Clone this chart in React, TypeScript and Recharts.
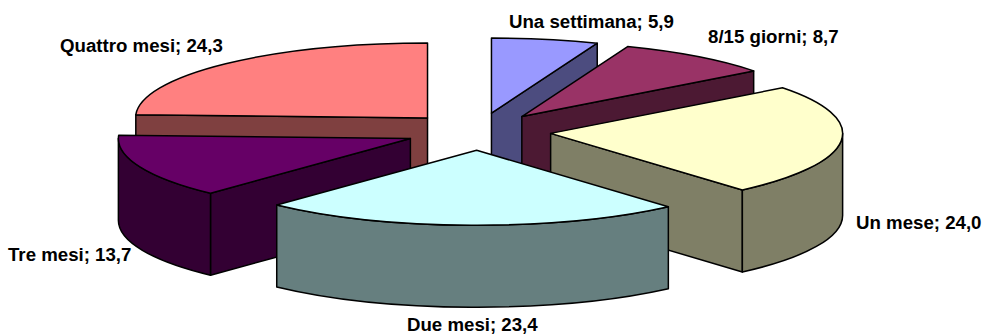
import { PieChart, Pie } from 'recharts';

const CATEGORIES = ['Una settimana', '8/15 giorni', 'Un mese', 'Due mesi', 'Tre mesi', 'Quattro mesi'];
const VALUES = [5.9, 8.7, 24.0, 23.4, 13.7, 24.3];
const TOP_COLORS = ['#9999FF', '#993366', '#FFFFCC', '#CCFFFF', '#660066', '#FF8080'];
const WALL_COLORS = ['#4C4C7F', '#4C1933', '#7F7F66', '#667F7F', '#330033', '#7F4040'];

// back-to-front, so nearer slices cover the ones behind them
const PAINT_ORDER = [5, 0, 1, 4, 2, 3];

const LABEL_ANCHORS = [
  { x: 509, y: 28 },
  { x: 708, y: 43 },
  { x: 856, y: 229 },
  { x: 407, y: 331 },
  { x: 8, y: 261 },
  { x: 60, y: 52 },
];

const WIDTH = 983;
const HEIGHT = 334;
const CX = 478;
const CY = 131.5;
const RADIUS = 292;
const SQUASH = 75 / 292; // vertical tilt of the disc
const DEPTH = 82;
const EXPLODE = 0.25;

const slices = CATEGORIES.map((name, i) => ({ name, value: VALUES[i] }));

const rad = (deg: number) => (deg * Math.PI) / 180;

function SliceBody({ cx, cy, outerRadius, startAngle, endAngle, midAngle, index }: any) {
  // angles clockwise from twelve o'clock
  const from = 90 - startAngle;
  const to = 90 - endAngle;
  const mid = midAngle !== undefined ? 90 - midAngle : (from + to) / 2;

  const rx = outerRadius;
  const ry = outerRadius * SQUASH;
  const ax = cx + EXPLODE * rx * Math.sin(rad(mid));
  const ay = cy - EXPLODE * ry * Math.cos(rad(mid));
  const at = (deg: number) => [ax + rx * Math.sin(rad(deg)), ay - ry * Math.cos(rad(deg))];

  const [sx, sy] = at(from);
  const [ex, ey] = at(to);
  const wall = WALL_COLORS[index];
  const edge = { stroke: '#000', strokeWidth: 1.5, strokeLinejoin: 'round' as const };

  const radial = (x: number, y: number) =>
    `M${ax} ${ay}L${x} ${y}L${x} ${y + DEPTH}L${ax} ${ay + DEPTH}Z`;

  // the curved side only faces the viewer on the front half of the disc
  const frontFrom = Math.max(from, 90);
  const frontTo = Math.min(to, 270);
  let outer = null;
  if (frontTo > frontFrom) {
    const [fx, fy] = at(frontFrom);
    const [tx, ty] = at(frontTo);
    outer =
      `M${fx} ${fy}A${rx} ${ry} 0 0 1 ${tx} ${ty}` +
      `L${tx} ${ty + DEPTH}A${rx} ${ry} 0 0 0 ${fx} ${fy + DEPTH}Z`;
  }

  return (
    <g>
      {Math.sin(rad(from)) < -1e-6 && <path d={radial(sx, sy)} fill={wall} {...edge} />}
      {Math.sin(rad(to)) > 1e-6 && <path d={radial(ex, ey)} fill={wall} {...edge} />}
      {outer && <path d={outer} fill={wall} {...edge} />}
      <path d={`M${ax} ${ay}L${sx} ${sy}A${rx} ${ry} 0 0 1 ${ex} ${ey}Z`} fill={TOP_COLORS[index]} {...edge} />
    </g>
  );
}

function SliceLabel({ index, name, value }: any) {
  const { x, y } = LABEL_ANCHORS[index];
  return (
    <text x={x} y={y} fontFamily="Liberation Sans" fontWeight="bold" fontSize={18.67} fill="#000">
      {`${name}; ${value.toFixed(1).replace('.', ',')}`}
    </text>
  );
}

export default function App() {
  return (
    <div style={{ position: 'absolute', left: 0, top: 0, width: WIDTH, height: HEIGHT }}>
      <PieChart width={WIDTH} height={HEIGHT} margin={{ top: 0, right: 0, bottom: 0, left: 0 }}>
        {PAINT_ORDER.map((sliceIndex, i) => (
          <Pie
            key={sliceIndex}
            data={slices}
            dataKey="value"
            nameKey="name"
            cx={CX}
            cy={CY}
            innerRadius={0}
            outerRadius={RADIUS}
            startAngle={90}
            endAngle={-270}
            isAnimationActive={false}
            rootTabIndex={-1}
            labelLine={false}
            label={i === PAINT_ORDER.length - 1 ? SliceLabel : false}
            shape={(props: any) =>
              props.index === sliceIndex ? <SliceBody {...props} /> : <g />
            }
          />
        ))}
      </PieChart>
    </div>
  );
}
